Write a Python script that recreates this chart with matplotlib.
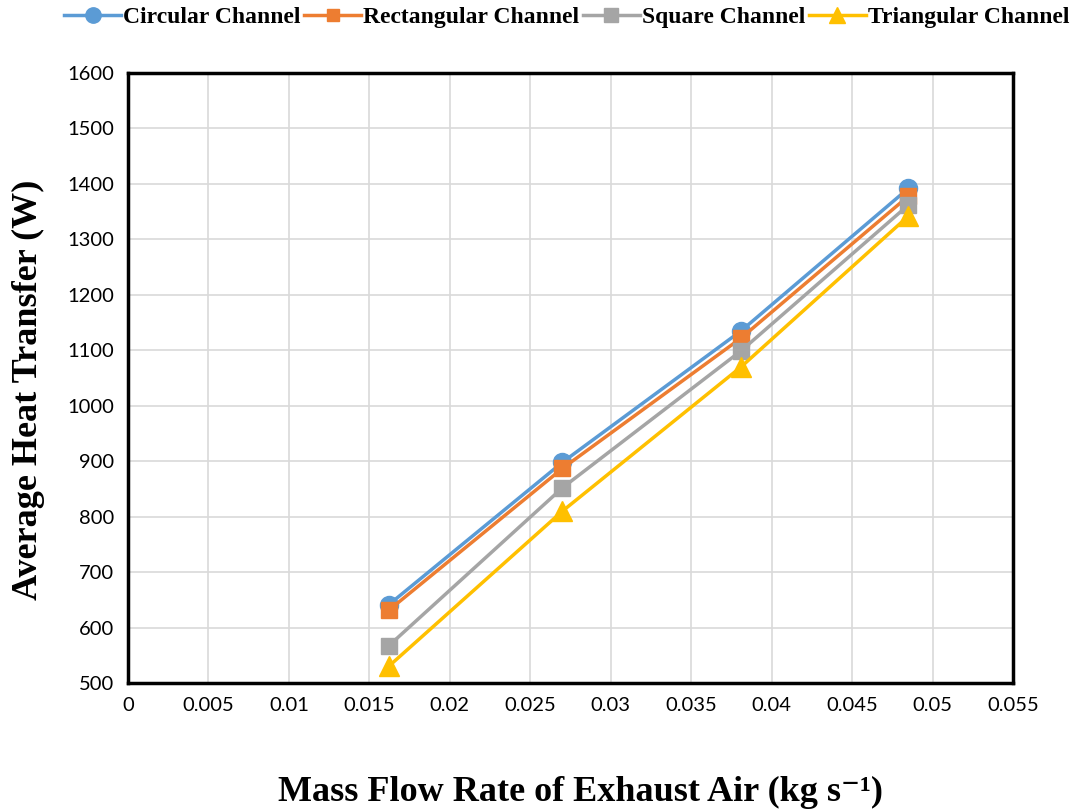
import matplotlib
matplotlib.use("Agg")
import matplotlib.pyplot as plt
from matplotlib.ticker import MultipleLocator, FuncFormatter

mass_flow = [0.0162, 0.0270, 0.0381, 0.0485]
circular = [641, 898, 1135, 1392]
rectangular = [631, 887, 1122, 1378]
square = [567, 852, 1099, 1362]
triangular = [530, 810, 1070, 1342]

series = [
    ("Circular Channel", circular, "#5B9BD5", "o", 13),
    ("Rectangular Channel", rectangular, "#ED7D31", "s", 11),
    ("Square Channel", square, "#A5A5A5", "s", 12),
    ("Triangular Channel", triangular, "#FFC000", "^", 14),
]

serif = ["Liberation Serif", "DejaVu Serif"]

fig = plt.figure(figsize=(10.88, 8.11), dpi=100)
ax = fig.add_axes([128/1088, 1-683/811, (1013-128)/1088, (683-73)/811])

for name, vals, col, mk, ms in series:
    ax.plot(mass_flow, vals, color=col, marker=mk, markersize=ms, linewidth=2.5,
            label=name, markeredgecolor=col)

ax.set_xlim(0, 0.055)
ax.set_ylim(500, 1600)
ax.xaxis.set_major_locator(MultipleLocator(0.005))
ax.yaxis.set_major_locator(MultipleLocator(100))
ax.xaxis.set_major_formatter(FuncFormatter(lambda v, p: f"{v:.3f}".rstrip("0").rstrip(".") if abs(v) > 1e-9 else "0"))
ax.grid(True, color="#D9D9D9", linewidth=1.2)
ax.set_axisbelow(True)
ax.tick_params(length=0, labelsize=14.5, pad=10)
for lab in ax.get_xticklabels() + ax.get_yticklabels():
    lab.set_fontfamily("Lato")
for s in ax.spines.values():
    s.set_linewidth(2.5)
    s.set_color("black")

fig.text(28/1088, 1-390/811, "Average Heat Transfer (W)", rotation=90, ha="center", va="center",
         fontfamily=serif, fontweight="bold", fontsize=26)
fig.text(580/1088, 1-792/811, "Mass Flow Rate of Exhaust Air (kg s\u207b\u00b9)", ha="center", va="center",
         fontfamily=serif, fontweight="bold", fontsize=26)

fig.legend(loc="center", bbox_to_anchor=(567/1088, 1-17/811), ncol=4, frameon=False,
           prop={"family": serif, "weight": "bold", "size": 17},
           handlelength=2.4, handletextpad=0.1, columnspacing=0.15, markerscale=0.85)

fig.savefig("out.png", dpi=100)
